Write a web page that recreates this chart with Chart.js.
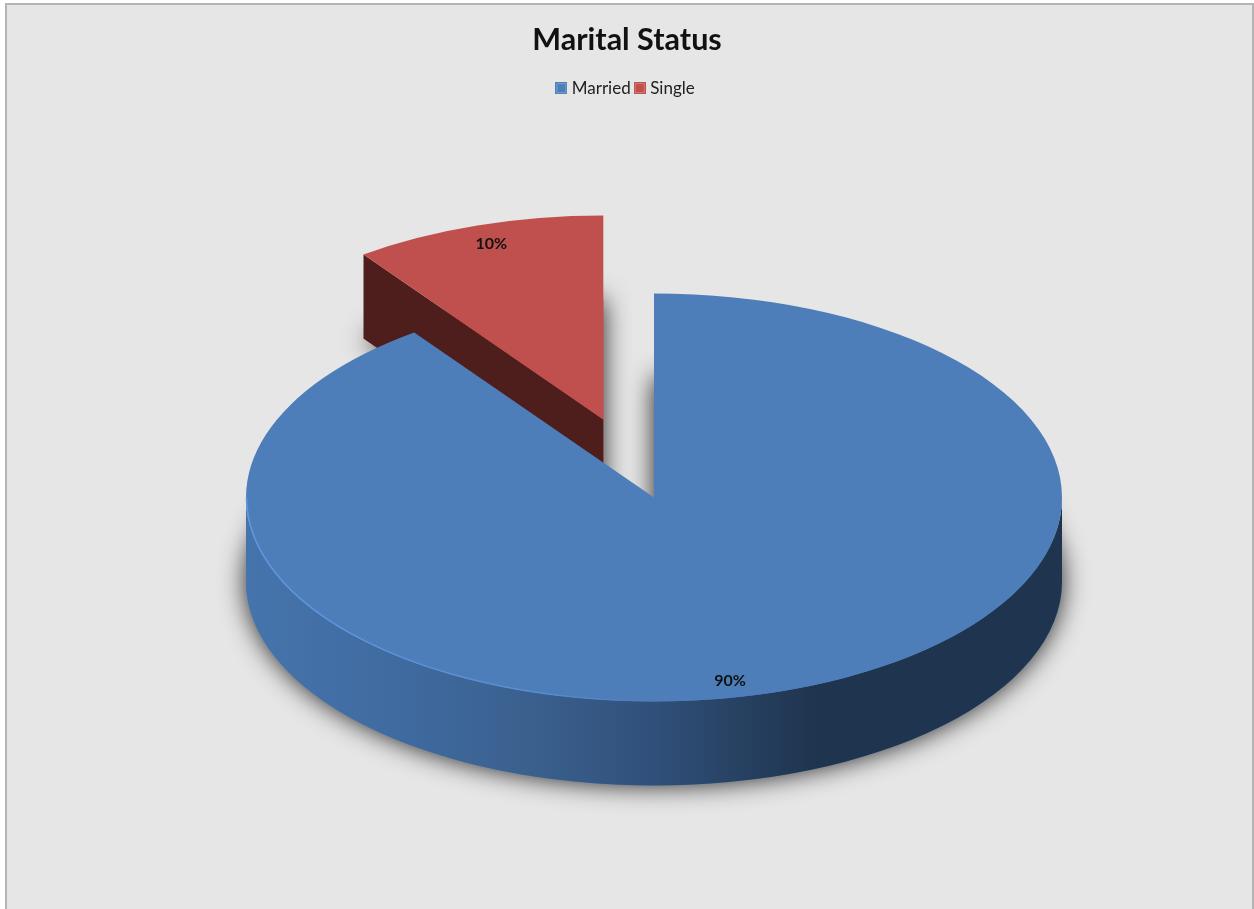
<!DOCTYPE html>
<html>
<head>
<meta charset="utf-8">
<style>
html,body{margin:0;padding:0;background:#fff;width:1254px;height:909px;overflow:hidden}
#frame{position:absolute;left:5px;top:3px;width:1245px;height:904px;background:#e6e6e6;border:solid #b4b4b4;border-width:2px 2px 0 2px}
#c{position:absolute;left:0;top:0;filter:blur(0.5px)}
</style>
<script src="https://cdn.jsdelivr.net/npm/chart.js@4"></script>
</head>
<body>
<div id="frame"></div>
<canvas id="c" width="1254" height="909"></canvas>
<script>
const categories = ['Married', 'Single'];
const percentages = [90, 10];
const faceColors = ['#4e7eba', '#c0504d'];
const chartTitle = 'Marital Status';

// styling and 3D projection settings
const pieCenter = {x: 654, y: 497.5};
const pieRadius = 408;
const tilt = 0.5;
const depth = 84;
const explode = [0, 164];
const labelRadius = 0.905;
const labelNudgeX = [-38, 2];
const labelNudgeY = [8, 0];
const cutWallColor = '#4d1e1c';

function legendSwatch(color) {
  const s = document.createElement('canvas');
  s.width = 12; s.height = 12;
  const g = s.getContext('2d');
  g.fillStyle = color;
  g.fillRect(0, 0, 12, 12);
  g.strokeStyle = 'rgba(255,255,255,0.25)';
  g.strokeRect(1.5, 1.5, 9, 9);
  return s;
}

const pie3d = {
  id: 'pie3d',
  beforeDatasetsDraw(chart) {
    const ctx = chart.ctx;
    const arcs = chart.getDatasetMeta(0).data;
    const rx = arcs[0].outerRadius;
    const ry = rx * tilt;
    const shift = i => {
      const half = (arcs[i].startAngle + arcs[i].endAngle) / 2;
      return {x: Math.cos(half) * explode[i], y: Math.sin(half) * explode[i] * tilt};
    };
    const face = (i, lift) => {
      const s = shift(i);
      ctx.save();
      ctx.translate(pieCenter.x + s.x, pieCenter.y + s.y + lift);
      ctx.scale(1, tilt);
      ctx.translate(-arcs[i].x, -arcs[i].y);
      arcs[i].draw(ctx);
      ctx.restore();
    };

    // soft shadows cast by the underside of both slices
    ctx.save();
    ctx.shadowColor = 'rgba(0,0,0,0.85)';
    ctx.shadowBlur = 26;
    face(1, depth);
    face(0, depth);
    ctx.restore();

    // exploded slice: cut wall, then top face
    const s1 = shift(1);
    const ax = pieCenter.x + s1.x, ay = pieCenter.y + s1.y;
    const ex = ax + Math.cos(arcs[1].startAngle) * rx;
    const ey = ay + Math.sin(arcs[1].startAngle) * ry;
    ctx.fillStyle = cutWallColor;
    ctx.beginPath();
    ctx.moveTo(ax, ay);
    ctx.lineTo(ex, ey);
    ctx.lineTo(ex, ey + depth);
    ctx.lineTo(ax, ay + depth);
    ctx.closePath();
    ctx.fill();
    face(1, 0);

    // main slice: rim wall, then top face
    const grad = ctx.createLinearGradient(pieCenter.x - rx, 0, pieCenter.x + rx, 0);
    grad.addColorStop(0, '#4574ac');
    grad.addColorStop(0.2, '#3f6a9f');
    grad.addColorStop(0.36, '#3a5f8c');
    grad.addColorStop(0.5, '#30507a');
    grad.addColorStop(0.62, '#263f5f');
    grad.addColorStop(0.7, '#1f344e');
    grad.addColorStop(1, '#1f344e');
    ctx.fillStyle = grad;
    ctx.beginPath();
    ctx.ellipse(pieCenter.x, pieCenter.y, rx, ry, 0, 0, Math.PI);
    ctx.ellipse(pieCenter.x, pieCenter.y + depth, rx, ry, 0, Math.PI, 0, true);
    ctx.closePath();
    ctx.fill();
    face(0, 0);

    // light bevel on the lower left rim
    const rim = ctx.createLinearGradient(pieCenter.x - rx, 0, pieCenter.x, 0);
    rim.addColorStop(0, 'rgba(96,152,224,0.95)');
    rim.addColorStop(0.7, 'rgba(96,152,224,0.6)');
    rim.addColorStop(1, 'rgba(96,152,224,0)');
    ctx.strokeStyle = rim;
    ctx.lineWidth = 1.6;
    ctx.beginPath();
    ctx.ellipse(pieCenter.x, pieCenter.y, rx - 0.5, ry - 0.5, 0, Math.PI, Math.PI / 2, true);
    ctx.stroke();

    // percentage labels
    ctx.fillStyle = '#111';
    ctx.font = 'bold 16px Lato';
    ctx.textAlign = 'center';
    ctx.textBaseline = 'middle';
    arcs.forEach((a, i) => {
      const s = shift(i);
      const half = (a.startAngle + a.endAngle) / 2;
      const lx = pieCenter.x + s.x + Math.cos(half) * rx * labelRadius + labelNudgeX[i];
      const ly = pieCenter.y + s.y + Math.sin(half) * ry * labelRadius + labelNudgeY[i];
      ctx.fillText(percentages[i] + '%', lx, ly);
    });
    return false;
  }
};

Chart.defaults.font.family = 'Lato';
new Chart(document.getElementById('c'), {
  type: 'pie',
  data: {
    labels: categories,
    datasets: [{
      data: percentages,
      backgroundColor: faceColors,
      borderWidth: 0,
      radius: pieRadius
    }]
  },
  options: {
    responsive: false,
    animation: false,
    devicePixelRatio: 1,
    radius: pieRadius,
    layout: {padding: {top: 22}},
    plugins: {
      tooltip: {enabled: false},
      title: {
        display: true,
        text: chartTitle,
        color: '#111',
        font: {size: 30.5, weight: 'bold', family: 'Lato'},
        padding: {top: 0, bottom: 14}
      },
      legend: {
        display: true,
        position: 'top',
        labels: {
          usePointStyle: true,
          pointStyleWidth: 4,
          color: '#222',
          font: {size: 17, family: 'Lato'},
          padding: 7,
          boxHeight: 12,
          generateLabels(chart) {
            return categories.map((name, i) => ({
              text: name,
              pointStyle: legendSwatch(faceColors[i]),
              fillStyle: faceColors[i],
              strokeStyle: faceColors[i],
              lineWidth: 0,
              fontColor: '#222',
              hidden: false,
              index: i
            }));
          }
        }
      }
    }
  },
  plugins: [pie3d]
});
</script>
</body>
</html>
